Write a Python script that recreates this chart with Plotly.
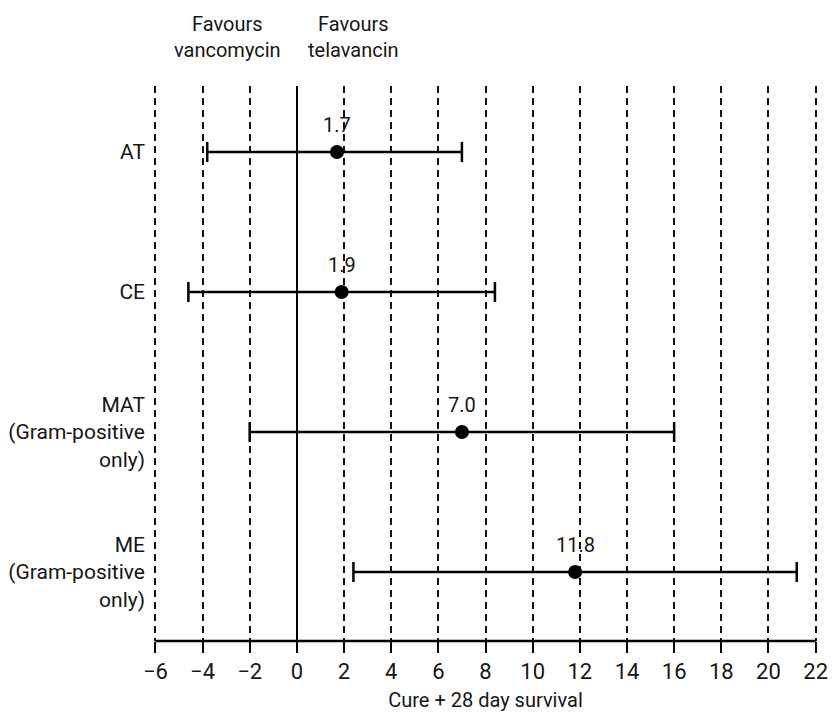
import plotly.graph_objects as go

# Forest plot data: treatment difference (telavancin - vancomycin) with 95% CI
groups = ["AT", "CE", "MAT<br>(Gram-positive<br>only)", "ME<br>(Gram-positive<br>only)"]
estimates = [1.7, 1.9, 7.0, 11.8]
ci_lower = [-3.8, -4.6, -2.0, 2.4]
ci_upper = [7.0, 8.4, 16.0, 21.2]
value_labels = ["1.7", "1.9", "7.0", "11.8"]
x_ticks = [-6, -4, -2, 0, 2, 4, 6, 8, 10, 12, 14, 16, 18, 20, 22]
x_title = "Cure + 28 day survival"
side_labels = ["Favours<br>vancomycin", "Favours<br>telavancin"]
side_label_x = [-2.95, 2.4]

FONT = "Roboto, Liberation Sans, Arial, sans-serif"
INK = "#161616"

rows = list(range(len(groups)))

fig = go.Figure()
fig.add_trace(go.Scatter(
    x=estimates,
    y=rows,
    mode="markers",
    marker=dict(size=14, color="black"),
    error_x=dict(
        type="data",
        symmetric=False,
        array=[u - e for u, e in zip(ci_upper, estimates)],
        arrayminus=[e - l for e, l in zip(estimates, ci_lower)],
        thickness=2.5,
        width=10,
        color="black",
    ),
    showlegend=False,
    hoverinfo="skip",
))

# point estimate labels above each marker
for r, e, t in zip(rows, estimates, value_labels):
    fig.add_annotation(x=e, y=r, text=t, showarrow=False, yshift=27,
                       font=dict(family=FONT, size=20, color=INK))

# direction labels above the plot
for xv, t in zip(side_label_x, side_labels):
    fig.add_annotation(x=xv, xref="x", y=1, yref="paper", text=t,
                       showarrow=False, yanchor="middle", yshift=49,
                       font=dict(family=FONT, size=20, color=INK))

fig.update_layout(
    width=832, height=721,
    margin=dict(l=153, r=14, t=86, b=80),
    paper_bgcolor="white", plot_bgcolor="white",
    font=dict(family=FONT, color=INK),
    xaxis=dict(
        range=[-6.1, 22.1],
        tickvals=x_ticks,
        ticktext=["\u2212" + str(-v) if v < 0 else str(v) for v in x_ticks],
        tickfont=dict(family=FONT, size=22, color=INK),
        ticklabeloverflow="allow",
        showgrid=True, gridcolor="#111111", gridwidth=2, griddash="7px,5px",
        zeroline=True, zerolinecolor="black", zerolinewidth=2,
        showline=False,
        ticks="outside", ticklen=11, tickwidth=2, tickcolor="black",
        title=dict(text=x_title, font=dict(family=FONT, size=20, color=INK), standoff=9),
        automargin=False,
        fixedrange=True,
    ),
    yaxis=dict(
        range=[3.493, -0.471],
        tickvals=rows,
        ticktext=groups,
        tickfont=dict(family=FONT, size=21, color=INK),
        showgrid=False, zeroline=False, showline=False, ticks="",
        ticklabelstandoff=7,
        automargin=False,
        fixedrange=True,
    ),
)

# baseline of the axis spanning exactly the tick range (-6 .. 22)
fig.add_shape(type="line", xref="x", yref="paper",
              x0=x_ticks[0], x1=x_ticks[-1], y0=0, y1=0,
              line=dict(color="black", width=2.5), layer="above")

fig.write_html("out.html")
